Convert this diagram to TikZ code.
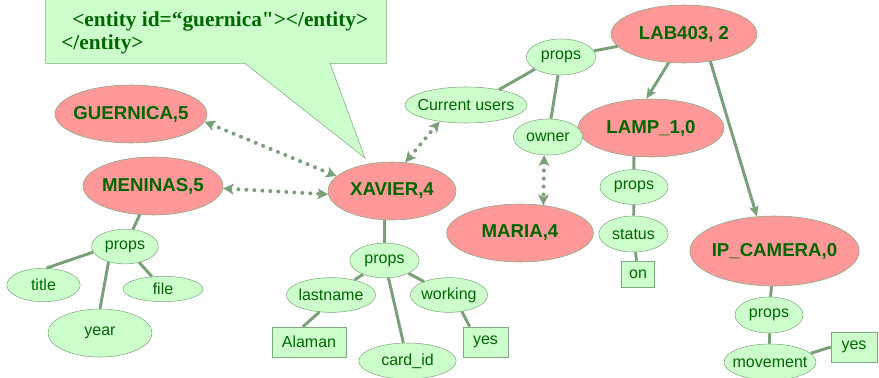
\documentclass[tikz,border=0pt]{standalone}
\usepackage{fontspec}
\setmainfont{Liberation Sans}
\newfontfamily\xmlfont{Liberation Serif}
\usetikzlibrary{shapes.geometric,arrows.meta}
\definecolor{txtgreen}{RGB}{0,102,0}
\definecolor{edgegreen}{RGB}{122,160,122}
\definecolor{palegreen}{RGB}{204,255,204}
\definecolor{pinkred}{RGB}{255,153,153}
\definecolor{rimgreen}{RGB}{128,168,128}
\begin{document}
\begin{tikzpicture}[x=0.75pt,y=-0.75pt]
            \tikzstyle{entity}=[ellipse,draw=rimgreen,fill=pinkred,text=txtgreen,font=\fontsize{14}{16}\selectfont\bfseries,inner xsep=-8pt,inner ysep=0pt,minimum height=43.5pt]
            \tikzstyle{prop}=[ellipse,draw=rimgreen,fill=palegreen,text=txtgreen,font=\fontsize{12}{14}\selectfont,inner xsep=-10pt,inner ysep=-2pt,minimum height=27pt]
            \tikzstyle{val}=[rectangle,draw=rimgreen,fill=palegreen,text=txtgreen,font=\fontsize{12}{14}\selectfont,inner sep=0pt,minimum height=22.5pt]
            \tikzstyle{xmltext}=[text=txtgreen,font=\xmlfont\fontsize{16}{18}\selectfont\bfseries,inner sep=0pt,anchor=base west]
            \tikzstyle{link}=[draw=edgegreen,line width=2.2pt]
            \tikzstyle{ref}=[draw=edgegreen,line width=3pt,line cap=round,dash pattern=on 0pt off 6pt,{Stealth[length=8pt,width=8pt,inset=2pt]}-{Stealth[length=8pt,width=8pt,inset=2pt]}]
            \useasboundingbox (0,0) rectangle (879,378);
            % callout
            \draw[rimgreen,fill=palegreen] (45.7,-20) -- (45.7,63.3) -- (245,63.3) -- (365,158) -- (330,63.3) -- (386.7,63.3) -- (386.7,-20) -- cycle;
            \node[xmltext] (xml2) at (72,26.7) {<entity id=“guernica"></entity>};
            \node[xmltext] (xml3) at (61,50) {</entity>};
            % entities
            \node[entity,minimum width=114pt] (gue) at (131,114) {GUERNICA,5};
            \node[entity,minimum width=105pt] (men) at (153,186) {MENINAS,5};
            \node[entity,minimum width=96pt] (xav) at (392,191) {XAVIER,4};
            \node[entity,minimum width=110pt] (mar) at (520,233) {MARIA,4};
            \node[entity,minimum width=109.5pt] (lab) at (684,34) {LAB403, 2};
            \node[entity,minimum width=109.5pt] (lamp) at (651,128) {LAMP\_1,0};
            \node[entity,minimum width=127pt,minimum height=52.5pt] (cam) at (774.5,251) {IP\_CAMERA,0};
            % props
            \node[prop,minimum width=52pt] (pLab) at (561,57) {props};
            \node[prop,minimum width=91.5pt] (cur) at (466,105) {Current users};
            \node[prop,minimum width=52pt] (own) at (548,137) {owner};
            \node[prop,minimum width=51pt,minimum height=26pt] (pLamp) at (634,187) {props};
            \node[prop,minimum width=52pt] (sta) at (633.5,234) {status};
            \node[val,minimum width=25pt,minimum height=19.5pt] (on) at (638,274) {on};
            \node[prop,minimum width=51pt] (pCam) at (769,315) {props};
            \node[prop,minimum width=69pt] (mov) at (770,362) {movement};
            \node[val,minimum width=34.5pt] (yCam) at (854,347) {yes};
            \node[prop,minimum width=50pt,minimum height=26pt] (pMen) at (125,246.5) {props};
            \node[prop,minimum width=55pt,minimum height=25pt] (tit) at (43.5,285) {title};
            \node[prop,minimum width=60pt,minimum height=19pt] (fil) at (163,289) {file};
            \node[prop,minimum width=78pt,minimum height=36pt] (yea) at (100,333) {year};
            \node[prop,minimum width=52pt,minimum height=26pt] (pXav) at (384.5,260.5) {props};
            \node[prop,minimum width=67pt,minimum height=26pt] (las) at (331,295) {lastname};
            \node[prop,minimum width=58pt,minimum height=26pt] (wor) at (449,295) {working};
            \node[prop,minimum width=73pt] (car) at (407.5,361) {card\_id};
            \node[val,minimum width=55.5pt] (ala) at (309,342) {Alaman};
            \node[val,minimum width=34pt] (yXav) at (485.5,342) {yes};
            % links
            \draw[link] (pLab) -- (lab);
            \draw[link] (pLab.205) -- (cur.25);
            \draw[link] (pLab) -- (own);
            \draw[link,-{Stealth[length=8pt,width=7pt,inset=2pt]}] (lab.242) -- (lamp.99);
            \draw[link,-{Stealth[length=8pt,width=7pt,inset=2pt]}] (lab.314) -- (cam.117);
            \draw[link] (pLamp) -- (lamp.239);
            \draw[link] (pLamp) -- (sta);
            \draw[link] (sta) -- (on);
            \draw[link] (cam) -- (pCam);
            \draw[link] (pCam) -- (mov);
            \draw[link] (mov.12) -- (yCam.west);
            \draw[link] (men) -- (pMen);
            \draw[link] (pMen.190) -- (tit.80);
            \draw[link] (pMen.223) -- (yea.north);
            \draw[link] (pMen) -- (fil);
            \draw[link] (pXav.north) -- (pXav.north |- xav.south);
            \draw[link] (pXav) -- (las);
            \draw[link] (pXav) -- (car);
            \draw[link] (pXav) -- (wor);
            \draw[link] (las.236) -- (ala.112);
            \draw[link] (wor.308) -- (yXav.136);
            % references
            \draw[ref] (gue.354) -- (xav.165);
            \draw[ref] (men.358) -- (xav.183);
            \draw[ref] (xav.65) -- (cur.212);
            \draw[ref] (own.258) -- (mar.50);
\end{tikzpicture}
\end{document}
